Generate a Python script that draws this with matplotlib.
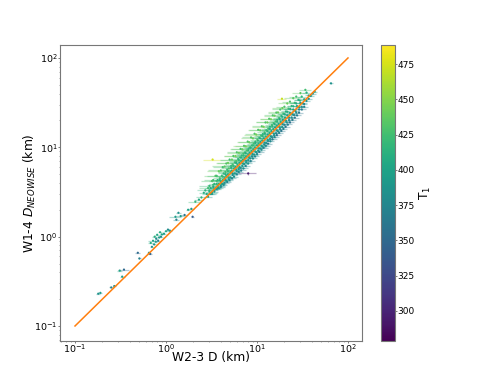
import numpy as np
import matplotlib
matplotlib.use("Agg")
import matplotlib.pyplot as plt

# small objects and outliers
x_sparse = [0.18, 0.19, 0.25, 0.27, 0.31, 0.345, 0.33, 0.49, 0.51, 0.65,
            0.67, 0.68, 0.7, 0.72, 0.74, 0.75, 0.77, 0.78, 0.8, 0.82,
            0.84, 0.86, 0.88, 0.9, 0.95, 1.0, 1.05, 1.1, 1.27, 1.3,
            1.37, 1.45, 1.6, 1.75, 1.96, 1.9, 2.1, 2.3, 2.45, 2.6,
            8.0, 3.25, 18.8, 65.0]
y_sparse = [0.23, 0.235, 0.27, 0.28, 0.417, 0.428, 0.357, 0.66, 0.57, 0.66,
            0.64, 0.85, 0.77, 0.9, 0.82, 1.0, 0.88, 0.95, 1.05, 0.9,
            0.98, 1.12, 1.0, 1.06, 1.08, 1.15, 1.2, 1.17, 1.67, 1.55,
            1.85, 1.7, 1.75, 2.0, 1.67, 2.05, 2.46, 2.6, 2.75, 3.1,
            5.1, 7.3, 35.0, 52.0]
t_sparse = [385, 395, 370, 385, 400, 350, 395, 350, 370, 395,
            345, 410, 385, 400, 390, 410, 395, 380, 405, 370,
            395, 410, 385, 400, 395, 405, 380, 390, 395, 370,
            385, 395, 360, 400, 340, 385, 420, 405, 415, 410,
            295, 475, 470, 385]
err_sparse = [0.01, 0.01, 0.015, 0.01, 0.02, 0.05, 0.02, 0.03, 0.02, 0.03,
              0.03, 0.04, 0.03, 0.08, 0.04, 0.04, 0.03, 0.03, 0.05, 0.04,
              0.04, 0.05, 0.04, 0.04, 0.05, 0.06, 0.05, 0.05, 0.2, 0.1,
              0.08, 0.15, 0.12, 0.1, 0.08, 0.15, 0.35, 0.25, 0.3, 0.3,
              1.8, 0.7, 2.2, 3.5]

# upper edge of the main band
x_a = [2.7, 2.9, 3.0, 3.2, 3.3, 3.5, 3.6, 3.8, 4.0, 4.2,
       4.4, 4.6, 4.8, 5.0, 5.3, 5.5, 5.8, 6.0, 6.3, 6.6,
       6.9, 7.2, 7.5, 7.9, 8.2, 8.6, 9.0, 9.4, 9.8, 10.3,
       10.8, 11.3, 11.8, 12.4, 13.0, 13.6, 14.2, 14.9, 15.6, 16.3,
       17.0, 18.0, 19.0, 20.0, 21.5, 23.0, 25.0, 27.0, 30.0, 34.0]
y_a = [3.3, 3.5, 3.7, 4.2, 4.3, 4.8, 4.8, 5.4, 5.5, 6.0,
       6.1, 6.6, 6.7, 7.3, 7.3, 8.0, 8.0, 8.8, 8.7, 9.6,
       9.5, 10.4, 10.3, 11.6, 11.4, 12.9, 12.6, 14.2, 13.9, 15.7,
       15.5, 17.2, 17.0, 19.0, 19.0, 20.9, 20.6, 22.8, 22.6, 24.5,
       24.6, 26.5, 27.5, 28.5, 31.0, 32.5, 35.5, 37.0, 40.5, 44.0]
t_a = [415, 425, 420, 430, 425, 435, 425, 440, 430, 425,
       435, 430, 440, 425, 440, 430, 445, 430, 440, 425,
       440, 430, 445, 430, 440, 430, 440, 430, 445, 430,
       440, 430, 445, 430, 440, 430, 445, 430, 440, 430,
       440, 430, 440, 430, 440, 430, 435, 425, 435, 425]
err_a = [0.5, 0.6, 0.7, 0.8, 0.7, 0.9, 0.8, 1.0, 1.1, 0.9,
         1.2, 1.0, 1.3, 1.1, 1.4, 1.2, 1.5, 1.3, 1.6, 1.4,
         1.8, 1.5, 2.0, 1.7, 2.2, 1.8, 2.4, 2.0, 2.6, 2.2,
         2.8, 2.4, 3.0, 2.6, 3.2, 2.8, 3.4, 3.0, 3.6, 3.2,
         3.8, 3.5, 4.2, 3.8, 4.5, 4.0, 5.0, 4.5, 5.5, 5.0]

# upper middle of the band
x_b = [2.8, 3.0, 3.1, 3.3, 3.4, 3.6, 3.7, 3.9, 4.1, 4.3,
       4.5, 4.7, 4.9, 5.2, 5.4, 5.7, 5.9, 6.2, 6.5, 6.8,
       7.1, 7.4, 7.7, 8.1, 8.4, 8.8, 9.2, 9.6, 10.1, 10.6,
       11.1, 11.6, 12.1, 12.7, 13.3, 13.9, 14.6, 15.3, 16.0, 16.7,
       17.5, 18.5, 19.5, 20.8, 22.2, 24.0, 26.0, 28.5, 31.0, 35.0]
y_b = [3.0, 3.3, 3.5, 3.8, 3.9, 4.2, 4.3, 4.5, 4.8, 5.1,
       5.3, 5.6, 5.8, 6.2, 6.4, 6.8, 7.0, 7.4, 7.7, 8.1,
       8.5, 8.8, 9.2, 9.7, 10.0, 10.5, 11.0, 11.6, 12.2, 12.8,
       13.5, 14.1, 14.7, 15.5, 16.2, 17.0, 17.8, 18.6, 19.5, 20.3,
       21.3, 22.5, 23.7, 25.2, 27.0, 29.0, 31.5, 34.0, 37.0, 41.0]
t_b = [405, 415, 410, 420, 415, 425, 415, 425, 420, 415,
       425, 420, 430, 420, 425, 420, 430, 420, 425, 415,
       425, 420, 430, 420, 425, 415, 425, 420, 430, 420,
       425, 415, 425, 420, 425, 415, 425, 420, 425, 415,
       425, 415, 420, 410, 420, 415, 420, 410, 415, 410]
err_b = [0.3, 0.4, 0.4, 0.5, 0.4, 0.6, 0.5, 0.6, 0.7, 0.6,
         0.8, 0.7, 0.9, 0.7, 0.9, 0.8, 1.0, 0.9, 1.1, 0.9,
         1.2, 1.0, 1.3, 1.1, 1.4, 1.2, 1.5, 1.3, 1.7, 1.4,
         1.8, 1.5, 2.0, 1.7, 2.1, 1.8, 2.3, 2.0, 2.5, 2.1,
         2.6, 2.3, 2.8, 2.5, 3.0, 2.8, 3.4, 3.0, 3.8, 3.5]

# centre of the band
x_c = [2.9, 3.1, 3.2, 3.4, 3.5, 3.7, 3.8, 4.0, 4.2, 4.4,
       4.6, 4.8, 5.1, 5.3, 5.6, 5.8, 6.1, 6.4, 6.7, 7.0,
       7.3, 7.6, 8.0, 8.3, 8.7, 9.1, 9.5, 10.0, 10.4, 10.9,
       11.4, 11.9, 12.5, 13.1, 13.7, 14.4, 15.1, 15.8, 16.5, 17.3,
       18.2, 19.2, 20.3, 21.5, 23.0, 25.0, 27.5, 30.0, 33.0, 37.0]
y_c = [2.8, 3.0, 3.1, 3.4, 3.5, 3.7, 3.9, 4.1, 4.3, 4.5,
       4.8, 5.0, 5.3, 5.5, 5.8, 6.0, 6.4, 6.7, 7.0, 7.3,
       7.6, 7.9, 8.3, 8.7, 9.1, 9.5, 10.0, 10.5, 11.0, 11.5,
       12.0, 12.6, 13.2, 13.9, 14.5, 15.2, 16.0, 16.7, 17.5, 18.3,
       19.3, 20.3, 21.5, 22.8, 24.3, 26.5, 29.0, 31.5, 34.5, 38.0]
t_c = [395, 400, 405, 400, 410, 405, 410, 400, 410, 405,
       410, 405, 415, 405, 410, 400, 410, 405, 410, 400,
       410, 405, 410, 400, 410, 400, 410, 405, 410, 400,
       405, 400, 410, 400, 405, 400, 405, 395, 405, 400,
       405, 395, 400, 395, 400, 395, 400, 395, 400, 395]
err_c = [0.3, 0.3, 0.4, 0.4, 0.4, 0.5, 0.4, 0.5, 0.5, 0.5,
         0.6, 0.5, 0.7, 0.6, 0.7, 0.6, 0.8, 0.7, 0.8, 0.7,
         0.9, 0.8, 1.0, 0.9, 1.1, 1.0, 1.2, 1.1, 1.3, 1.1,
         1.4, 1.2, 1.5, 1.3, 1.6, 1.4, 1.8, 1.5, 1.9, 1.7,
         2.0, 1.8, 2.2, 2.0, 2.4, 2.2, 2.7, 2.5, 3.2, 3.0]

# lower middle of the band
x_d = [3.2, 3.4, 3.6, 3.8, 4.0, 4.2, 4.4, 4.6, 4.9, 5.1,
       5.4, 5.7, 6.0, 6.3, 6.6, 6.9, 7.2, 7.6, 8.0, 8.4,
       8.8, 9.3, 9.8, 10.3, 10.8, 11.4, 12.0, 12.6, 13.2, 13.9,
       14.6, 15.4, 16.2, 17.0, 17.9, 18.9, 20.0, 21.2, 22.5, 24.0,
       25.5, 27.0, 29.0, 31.0, 33.0, 35.0, 37.0, 39.0, 41.0, 43.0]
y_d = [3.0, 3.2, 3.4, 3.5, 3.7, 3.9, 4.0, 4.2, 4.4, 4.6,
       4.9, 5.1, 5.4, 5.7, 5.9, 6.2, 6.5, 6.8, 7.2, 7.5,
       7.9, 8.3, 8.8, 9.2, 9.7, 10.2, 10.7, 11.2, 11.8, 12.4,
       13.0, 13.7, 14.4, 15.1, 16.0, 16.9, 17.9, 19.0, 20.2, 21.6,
       23.0, 24.5, 26.5, 28.5, 30.5, 33.0, 35.0, 37.5, 40.0, 42.0]
t_d = [385, 390, 385, 395, 385, 390, 385, 395, 385, 390,
       385, 395, 385, 390, 380, 390, 385, 395, 385, 390,
       380, 390, 385, 390, 380, 390, 385, 390, 380, 385,
       380, 385, 375, 385, 380, 385, 375, 385, 375, 380,
       375, 380, 375, 380, 375, 385, 380, 390, 385, 395]
err_d = [0.3, 0.3, 0.4, 0.4, 0.4, 0.4, 0.5, 0.5, 0.5, 0.5,
         0.6, 0.6, 0.7, 0.6, 0.7, 0.7, 0.8, 0.8, 0.9, 0.8,
         1.0, 0.9, 1.1, 1.0, 1.2, 1.1, 1.3, 1.2, 1.4, 1.3,
         1.5, 1.4, 1.7, 1.6, 1.8, 1.7, 2.0, 1.9, 2.2, 2.1,
         2.4, 2.3, 2.6, 2.5, 2.8, 2.8, 3.0, 3.0, 3.2, 3.2]

# lower edge of the band
x_e = [4.0, 4.3, 4.7, 5.0, 5.3, 5.6, 6.0, 6.3, 6.7, 7.1,
       7.5, 8.0, 8.5, 9.0, 9.5, 10.0, 10.6, 11.2, 11.8, 12.5,
       13.2, 14.0, 14.8, 15.6, 16.5, 17.5, 18.5, 19.5, 20.6, 21.8,
       23.0, 24.5, 26.0, 27.5, 29.0, 31.0, 33.0]
y_e = [3.6, 3.8, 4.1, 4.3, 4.5, 4.7, 5.0, 5.3, 5.5, 5.8,
       6.2, 6.6, 7.0, 7.5, 7.9, 8.4, 8.9, 9.4, 9.9, 10.4,
       11.0, 11.7, 12.3, 13.0, 13.7, 14.5, 15.3, 16.1, 17.0, 18.0,
       19.0, 20.3, 21.5, 22.8, 24.5, 26.5, 28.5]
t_e = [375, 380, 370, 380, 375, 385, 375, 380, 370, 380,
       375, 385, 370, 380, 375, 380, 365, 380, 370, 375,
       365, 375, 365, 375, 360, 370, 360, 370, 360, 365,
       355, 365, 360, 365, 360, 365, 370]
err_e = [0.4, 0.4, 0.5, 0.5, 0.6, 0.6, 0.7, 0.7, 0.8, 0.8,
         0.9, 0.9, 1.0, 1.0, 1.1, 1.1, 1.2, 1.2, 1.3, 1.3,
         1.5, 1.5, 1.6, 1.7, 1.8, 1.9, 2.0, 2.1, 2.2, 2.3,
         2.5, 2.6, 2.8, 3.0, 3.0, 3.2, 3.4]

# filling between the tracks above
x_f = [3.0, 3.3, 3.6, 3.9, 4.2, 4.5, 4.8, 5.2, 5.5, 5.9,
       6.3, 6.7, 7.1, 7.5, 8.0, 8.5, 9.0, 9.6, 10.2, 10.8,
       11.5, 12.2, 13.0, 13.8, 14.7, 15.6, 16.6, 17.7, 18.9, 20.2,
       21.6, 23.2, 25.0, 27.0, 29.5]
y_f = [3.2, 3.6, 3.9, 4.3, 4.7, 5.0, 5.4, 5.9, 6.2, 6.7,
       7.2, 7.7, 8.1, 8.6, 9.3, 9.9, 10.5, 11.2, 11.9, 12.6,
       13.4, 14.2, 15.2, 16.1, 17.2, 18.2, 19.4, 20.7, 22.0, 23.5,
       25.0, 26.8, 28.8, 31.0, 33.5]
t_f = [410, 405, 415, 410, 420, 410, 420, 410, 420, 410,
       415, 410, 420, 410, 415, 410, 420, 410, 415, 405,
       415, 410, 415, 405, 415, 410, 415, 405, 410, 405,
       410, 405, 410, 405, 410]
err_f = [0.3, 0.4, 0.4, 0.5, 0.5, 0.5, 0.6, 0.7, 0.7, 0.8,
         0.9, 0.9, 1.0, 1.1, 1.2, 1.2, 1.3, 1.4, 1.5, 1.6,
         1.7, 1.8, 2.0, 2.0, 2.2, 2.3, 2.5, 2.6, 2.8, 3.0,
         3.2, 3.4, 3.6, 3.8, 4.0]
x_g = [3.4, 3.7, 4.1, 4.5, 4.9, 5.4, 5.9, 6.4, 7.0, 7.6,
       8.2, 8.9, 9.6, 10.4, 11.2, 12.1, 13.1, 14.2, 15.3, 16.5,
       17.8, 19.2, 20.8, 22.5, 24.5, 26.5, 29.0, 32.0]
y_g = [3.3, 3.5, 3.9, 4.3, 4.6, 5.1, 5.6, 6.0, 6.6, 7.1,
       7.7, 8.4, 9.0, 9.7, 10.4, 11.3, 12.2, 13.3, 14.3, 15.5,
       16.8, 18.2, 19.8, 21.5, 23.5, 25.5, 28.0, 31.0]
t_g = [395, 390, 400, 395, 400, 390, 400, 395, 400, 390,
       395, 390, 400, 390, 395, 385, 395, 385, 395, 385,
       390, 385, 390, 380, 390, 385, 390, 385]
err_g = [0.3, 0.3, 0.4, 0.4, 0.5, 0.5, 0.6, 0.6, 0.7, 0.8,
         0.8, 0.9, 1.0, 1.1, 1.2, 1.2, 1.3, 1.4, 1.5, 1.6,
         1.8, 1.9, 2.1, 2.2, 2.4, 2.6, 2.8, 3.0]

line_d = [0.1, 100]
cbar_ticks = [300, 325, 350, 375, 400, 425, 450, 475]
vmin, vmax = 278.7, 488.5

d_w23 = np.array(x_sparse + x_e + x_d + x_a + x_b + x_c + x_f + x_g)
d_neo = np.array(y_sparse + y_e + y_d + y_a + y_b + y_c + y_f + y_g)
t_1 = np.array(t_sparse + t_e + t_d + t_a + t_b + t_c + t_f + t_g)
d_err = np.array(err_sparse + err_e + err_d + err_a + err_b + err_c + err_f + err_g)

fig = plt.figure(figsize=(4.86, 3.82), dpi=100)
ax = fig.add_axes([60 / 486, 1 - 341 / 382, 302 / 486, 296 / 382])
cax = fig.add_axes([381 / 486, 1 - 341 / 382, 14 / 486, 296 / 382])

norm = plt.Normalize(vmin, vmax)
colors = plt.cm.viridis(norm(t_1))
ax.errorbar(d_w23, d_neo, xerr=d_err, yerr=d_err * 0.12, fmt="none",
            ecolor=colors, elinewidth=0.9, alpha=0.35, zorder=1)
sc = ax.scatter(d_w23, d_neo, c=t_1, s=2.5, cmap="viridis", norm=norm,
                linewidths=0, zorder=2)
ax.plot(line_d, line_d, color="tab:orange", lw=1.1, zorder=3)

ax.set_xscale("log")
ax.set_yscale("log")
ax.set_xlim(10 ** -1.165, 10 ** 2.154)
ax.set_ylim(10 ** -1.168, 10 ** 2.145)
ax.set_xlabel("W2-3 D (km)", fontsize=8.8)
ax.set_ylabel(r"W1-4 $D_{NEOWISE}$ (km)", fontsize=8.8)
ax.xaxis.set_label_coords(0.5, -0.035)
ax.yaxis.set_label_coords(-0.074, 0.5)
ax.tick_params(labelsize=6.8, width=0.6, length=1.5, pad=-0.8, color="#666666")
ax.tick_params(axis="y", pad=0.4)
ax.tick_params(which="minor", width=0.4, length=1.0, color="#666666")

cb = fig.colorbar(sc, cax=cax)
cb.set_ticks(cbar_ticks)
cb.ax.tick_params(labelsize=6.5, width=0.6, length=1.5, pad=0, color="#666666")
cb.set_label(r"T$_1$", fontsize=8.8)
cb.ax.yaxis.set_label_coords(2.6, 0.5)

for a in [ax, cax]:
    for s in a.spines.values():
        s.set_color("#777777")

fig.savefig("out.png", dpi=100)
